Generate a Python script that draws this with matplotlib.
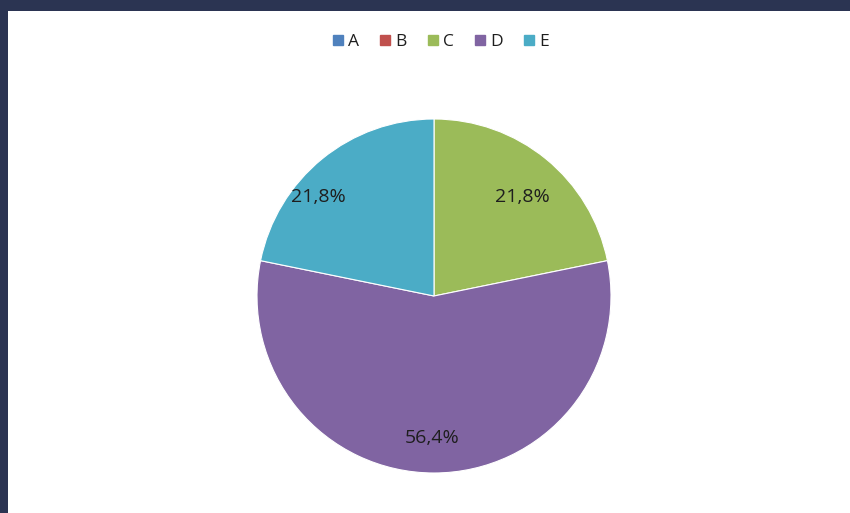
import matplotlib.pyplot as plt
from matplotlib.patches import Rectangle
from matplotlib.lines import Line2D

categories = ["A", "B", "C", "D", "E"]
values = [0.0, 0.0, 21.8, 56.4, 21.8]
colors = ["#4f81bd", "#c0504d", "#9bbb59", "#8064a2", "#4bacc6"]

# where the percentage labels sit (pie radius = 1), like Excel's "best fit"
label_pos = {"C": (0.50, 0.56), "D": (-0.01, -0.80), "E": (-0.655, 0.56)}

W, H = 850, 513
fig = plt.figure(figsize=(W / 100, H / 100), dpi=100, facecolor="#2b3452")
plt.rcParams['font.family'] = ['Open Sans', 'DejaVu Sans']

# white plot area inside the dark frame
fig.patches.append(Rectangle((8 / W, 0), 1 - 8 / W, (H - 11) / H,
                             transform=fig.transFigure, facecolor="white",
                             edgecolor="none", zorder=-10))

cx, cy, r = 434, 296, 177
ax = fig.add_axes([(cx - r) / W, (H - cy - r) / H, 2 * r / W, 2 * r / H])
ax.set_facecolor("none")


def fmt(p):
    return ("%.1f%%" % p).replace(".", ",") if p > 0 else ""


wedges, texts, autotexts = ax.pie(values, colors=colors, startangle=90, counterclock=False,
                                  autopct=fmt, pctdistance=0.8,
                                  wedgeprops=dict(edgecolor="white", linewidth=0.8),
                                  textprops=dict(fontsize=14, color="#1e1e1e"))
for cat, t in zip(categories, autotexts):
    if cat in label_pos:
        t.set_position(label_pos[cat])

ax.set_xlim(-1, 1)
ax.set_ylim(-1, 1)
ax.set_aspect("equal")
ax.axis("off")

handles = [Line2D([0], [0], marker="s", linestyle="none", markersize=7,
                  markerfacecolor=c, markeredgecolor=c) for c in colors]
fig.legend(handles, categories, loc="center", bbox_to_anchor=(440 / W, 1 - 42 / H),
           ncol=5, frameon=False, fontsize=12.5, handletextpad=0.2, columnspacing=1.1,
           handlelength=0.8, labelcolor="#1e1e1e")

fig.savefig("out.png", dpi=100, facecolor=fig.get_facecolor())
